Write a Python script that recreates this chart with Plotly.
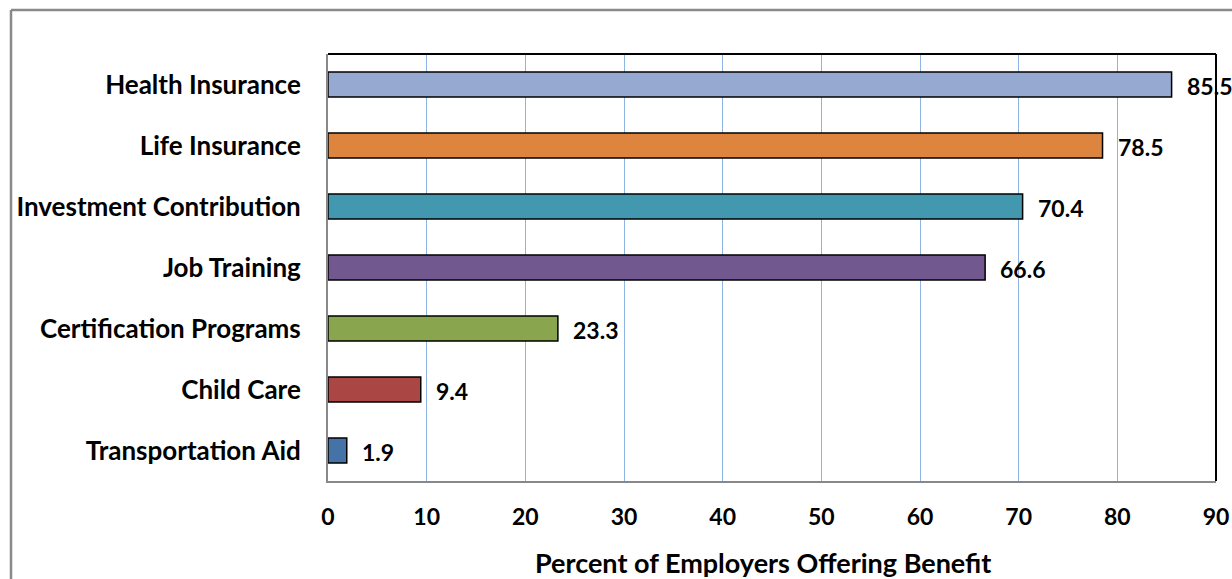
import plotly.graph_objects as go

# Employer benefit survey: share of employers offering each benefit
categories = [
    "Health Insurance",
    "Life Insurance",
    "Investment Contribution",
    "Job Training",
    "Certification Programs",
    "Child Care",
    "Transportation Aid",
]
values = [85.5, 78.5, 70.4, 66.6, 23.3, 9.4, 1.9]
bar_colors = ["#95A9D1", "#DD843F", "#4198AF", "#71588F", "#89A54E", "#AA4643", "#4572A7"]
x_ticks = [0, 10, 20, 30, 40, 50, 60, 70, 80, 90]
x_title = "Percent of Employers Offering Benefit"

FONT = "Lato"
W, H = 1232, 579
L, R, T, B = 328, 16, 54, 98

fig = go.Figure()
fig.add_trace(go.Bar(
    y=categories,
    x=values,
    orientation="h",
    marker=dict(color=bar_colors, line=dict(color="#000000", width=1.5)),
    width=0.41,
    hoverinfo="skip",
))

# value labels to the right of each bar
for cat, v in zip(categories, values):
    fig.add_annotation(
        x=v, y=cat, xref="x", yref="y",
        text=f"{v:.1f}", showarrow=False,
        xanchor="left", yanchor="middle", xshift=13, yshift=-1,
        font=dict(family=FONT, size=23, color="#000000", weight="bold"),
    )

plot_w = W - L - R
plot_h = H - T - B

# x-axis title placed below the tick labels
fig.add_annotation(
    x=(763 - L) / plot_w, y=(H - B - 562) / plot_h, xref="paper", yref="paper",
    text=x_title, showarrow=False, xanchor="center", yanchor="middle",
    font=dict(family=FONT, size=27, color="#000000", weight="bold"),
)

shapes = [
    # outer chart frame (top and left edges visible)
    dict(type="line", xref="paper", yref="paper",
         x0=(11 - L) / plot_w, x1=1.2, y0=(H - B - 10) / plot_h, y1=(H - B - 10) / plot_h,
         line=dict(color="#898989", width=2.5)),
    dict(type="line", xref="paper", yref="paper",
         x0=(11 - L) / plot_w, x1=(11 - L) / plot_w, y0=(H - B - 10) / plot_h, y1=-0.5,
         line=dict(color="#898989", width=2.5)),
    # plot area border: dark top and right
    dict(type="line", xref="paper", yref="paper", x0=0, x1=1, y0=1, y1=1,
         line=dict(color="#000000", width=2), layer="above"),
    dict(type="line", xref="paper", yref="paper", x0=1, x1=1, y0=0, y1=1,
         line=dict(color="#000000", width=2), layer="above"),
]

fig.update_layout(
    width=W, height=H,
    margin=dict(l=L, r=R, t=T, b=B, autoexpand=False),
    paper_bgcolor="#FFFFFF", plot_bgcolor="#FFFFFF",
    showlegend=False,
    shapes=shapes,
    font=dict(family=FONT, color="#000000"),
)
fig.update_xaxes(
    range=[0, 90], tickvals=x_ticks, ticktext=[str(t) for t in x_ticks],
    showgrid=True, gridcolor="#8EB4E3", gridwidth=1,
    showline=True, linecolor="#888888", linewidth=2,
    zeroline=False, ticks="", ticklabelstandoff=14,
    tickfont=dict(family=FONT, size=23, color="#000000", weight="bold"),
    automargin=False, fixedrange=True,
)
fig.update_yaxes(
    categoryorder="array", categoryarray=categories[::-1],
    showgrid=False, showline=True, linecolor="#888888", linewidth=2,
    ticks="", ticklabelstandoff=20,
    tickfont=dict(family=FONT, size=26, color="#000000", weight="bold"),
    automargin=False, fixedrange=True,
)

fig.write_html("out.html")
